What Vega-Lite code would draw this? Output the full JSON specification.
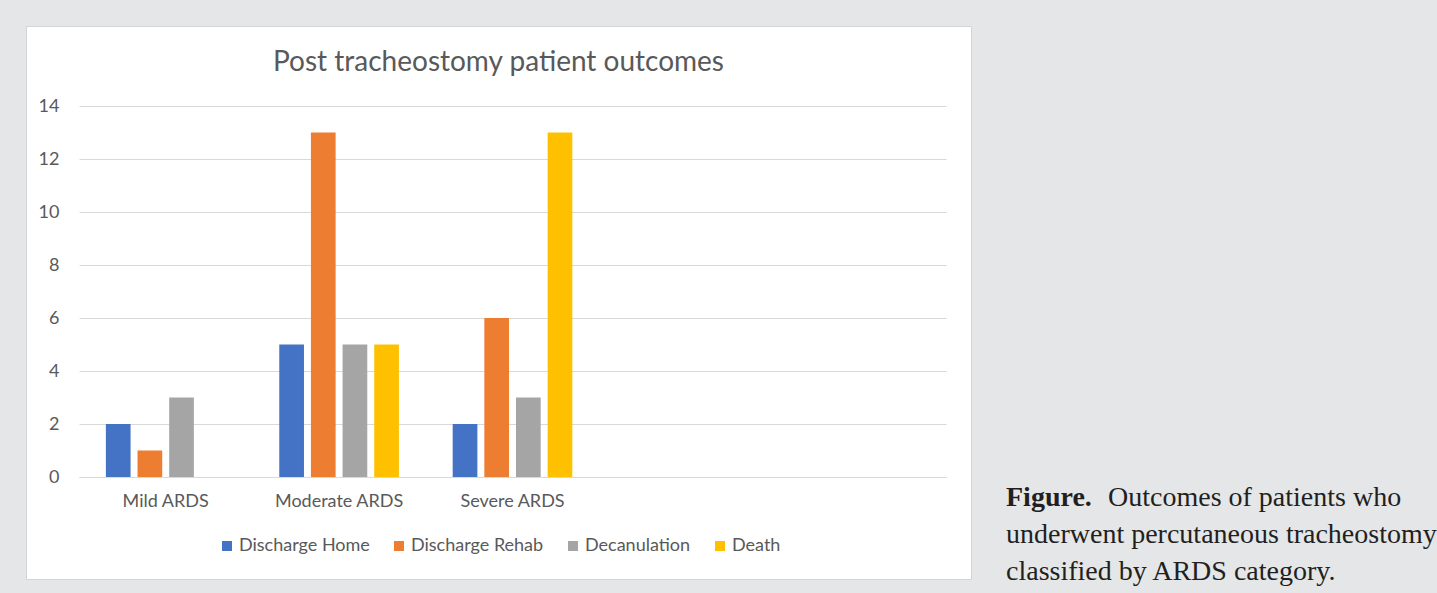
{
  "$schema": "https://vega.github.io/schema/vega-lite/v6.json",
  "background": "#e5e6e8",
  "padding": {"left": 25, "top": 25, "right": 0, "bottom": 15},
  "spacing": 34,
  "config": {"view": {"stroke": null}},
  "hconcat": [
    {
      "width": 945,
      "height": 553,
      "view": {"fill": "#ffffff", "stroke": "#d4d4d4", "strokeWidth": 1},
      "title": {
        "text": "Post tracheostomy patient outcomes",
        "anchor": "middle",
        "frame": "group",
        "offset": -73,
        "baseline": "alphabetic",
        "font": "Lato",
        "fontSize": 28,
        "fontWeight": "normal",
        "color": "#595959"
      },
      "data": {
        "values": [
          {"severity": "Mild ARDS", "outcome": "Discharge Home", "count": 2},
          {"severity": "Mild ARDS", "outcome": "Discharge Rehab", "count": 1},
          {"severity": "Mild ARDS", "outcome": "Decanulation", "count": 3},
          {"severity": "Mild ARDS", "outcome": "Death", "count": 0},
          {"severity": "Moderate ARDS", "outcome": "Discharge Home", "count": 5},
          {"severity": "Moderate ARDS", "outcome": "Discharge Rehab", "count": 13},
          {"severity": "Moderate ARDS", "outcome": "Decanulation", "count": 5},
          {"severity": "Moderate ARDS", "outcome": "Death", "count": 5},
          {"severity": "Severe ARDS", "outcome": "Discharge Home", "count": 2},
          {"severity": "Severe ARDS", "outcome": "Discharge Rehab", "count": 6},
          {"severity": "Severe ARDS", "outcome": "Decanulation", "count": 3},
          {"severity": "Severe ARDS", "outcome": "Death", "count": 13}
        ]
      },
      "mark": {"type": "bar"},
      "encoding": {
        "x": {
          "field": "severity",
          "type": "nominal",
          "sort": null,
          "scale": {
            "domain": ["Mild ARDS", "Moderate ARDS", "Severe ARDS", " ", "  "],
            "range": [53, 920],
            "paddingInner": 0.31,
            "paddingOuter": 0.155
          },
          "axis": {
            "title": null,
            "orient": "bottom",
            "offset": -102,
            "domain": true,
            "domainColor": "#d9d9d9",
            "domainWidth": 1,
            "ticks": false,
            "grid": false,
            "labelAngle": 0,
            "labelPadding": 15,
            "labelFont": "Lato",
            "labelFontSize": 18,
            "labelColor": "#595959"
          }
        },
        "xOffset": {
          "field": "outcome",
          "type": "nominal",
          "scale": {
            "domain": ["Discharge Home", "Discharge Rehab", "Decanulation", "Death"],
            "paddingInner": 0.22,
            "paddingOuter": 0
          }
        },
        "y": {
          "field": "count",
          "type": "quantitative",
          "scale": {"domain": [0, 14], "range": [451, 80], "nice": false},
          "axis": {
            "title": null,
            "values": [0, 2, 4, 6, 8, 10, 12, 14],
            "offset": -53,
            "domain": false,
            "ticks": false,
            "grid": true,
            "gridColor": "#d9d9d9",
            "gridWidth": 1,
            "labelPadding": 20,
            "labelFont": "Lato",
            "labelFontSize": 18,
            "labelColor": "#595959"
          }
        },
        "color": {
          "field": "outcome",
          "type": "nominal",
          "scale": {
            "domain": ["Discharge Home", "Discharge Rehab", "Decanulation", "Death"],
            "range": ["#4472c4", "#ed7d31", "#a5a5a5", "#ffc000"]
          },
          "legend": {
            "title": null,
            "orient": "none",
            "legendX": 192,
            "legendY": 511,
            "direction": "horizontal",
            "symbolType": "square",
            "symbolSize": 100,
            "symbolStrokeWidth": 0,
            "labelFont": "Lato",
            "labelFontSize": 18,
            "labelColor": "#595959",
            "labelOffset": 3,
            "columnPadding": 20
          }
        }
      }
    },
    {
      "width": 430,
      "height": 553,
      "view": {"stroke": null},
      "data": {
        "values": [
          {"line": 1, "part": "bold", "text": "Figure."},
          {"line": 1, "part": "lead", "text": "Outcomes of patients who"},
          {"line": 2, "part": "body", "text": "underwent percutaneous tracheostomy"},
          {"line": 3, "part": "body", "text": "classified by ARDS category."}
        ]
      },
      "encoding": {
        "x": {"datum": 0, "type": "quantitative", "scale": {"domain": [0, 1]}, "axis": null},
        "y": {"field": "line", "type": "ordinal", "scale": {"type": "point", "domain": [1, 2, 3], "range": [480, 554], "padding": 0}, "axis": null},
        "text": {"field": "text"}
      },
      "layer": [
        {
          "transform": [{"filter": "datum.part === 'bold'"}],
          "mark": {"type": "text", "align": "left", "baseline": "alphabetic", "font": "Liberation Serif", "fontSize": 28, "fontWeight": "bold", "color": "#231f20"}
        },
        {
          "transform": [{"filter": "datum.part === 'lead'"}],
          "mark": {"type": "text", "align": "left", "baseline": "alphabetic", "dx": 102, "font": "Liberation Serif", "fontSize": 28, "color": "#231f20"}
        },
        {
          "transform": [{"filter": "datum.part === 'body'"}],
          "mark": {"type": "text", "align": "left", "baseline": "alphabetic", "font": "Liberation Serif", "fontSize": 28, "color": "#231f20"}
        }
      ]
    }
  ]
}
